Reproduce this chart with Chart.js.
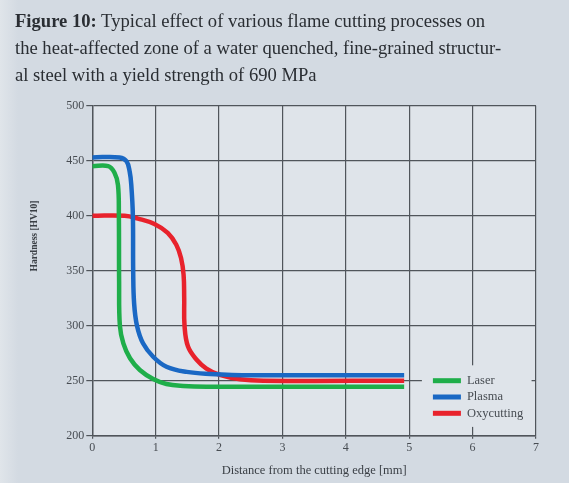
<!DOCTYPE html>
<html>
<head>
<meta charset="utf-8">
<script src="https://cdn.jsdelivr.net/npm/chart.js@4.4.1/dist/chart.umd.min.js"></script>
<style>
  html, body { margin: 0; padding: 0; }
  body {
    width: 569px; height: 483px; position: relative; overflow: hidden;
    background: linear-gradient(to right, #e0e5ea 0px, #d3dae2 18px);
    font-family: "Liberation Serif", "DejaVu Serif", serif;
  }
  #wrap { position: absolute; left: 0; top: 0; width: 569px; height: 483px; }
  #caption {
    position: absolute; left: 15px; top: 7px;
    font-size: 18.6px; line-height: 27px; color: #2a2e33;
  }
</style>
</head>
<body>
<div id="wrap"><canvas id="hardness"></canvas></div>
<div id="caption"><b>Figure 10:</b> Typical effect of various flame cutting processes on<br>the heat-affected zone of a water quenched, fine-grained structur-<br>al steel with a yield strength of 690 MPa</div>
<script>
// hardness profiles, distance in mm vs HV10
const laserX  = [0, 0.25, 0.35, 0.405, 0.419, 0.423, 0.435, 0.49, 0.595, 0.75, 0.96, 1.17, 1.435, 1.8, 4.92];
const laserY  = [445, 445, 439, 428, 401, 340, 300, 284, 270.4, 259.7, 251.5, 247, 245.2, 244.5, 244.5];
const plasmaX = [0, 0.43, 0.54, 0.59, 0.615, 0.64, 0.645, 0.66, 0.705, 0.80, 0.96, 1.17, 1.49, 1.86, 2.5, 4.92];
const plasmaY = [453, 453, 449.5, 440, 428, 400, 350, 320, 300, 284, 271.8, 262.7, 258, 256.2, 255, 255];
const oxyX    = [0, 0.51, 0.72, 0.98, 1.19, 1.325, 1.40, 1.44, 1.45, 1.455, 1.51, 1.65, 1.80, 2.01, 2.33, 2.7, 4.92];
const oxyY    = [400, 400, 397.4, 392.5, 384.4, 373.6, 361.5, 346.4, 325, 300, 281, 268.8, 261, 255.2, 251.3, 250, 250];

const seriesNames = ['Laser', 'Plasma', 'Oxycutting'];
const seriesColors = ['#1fae4a', '#1a68c4', '#e8222c'];

const xTicks = [0, 1, 2, 3, 4, 5, 6, 7];
const yTicks = [200, 250, 300, 350, 400, 450, 500];

const xTitle = 'Distance from the cutting edge [mm]';
const yTitle = 'Hardness [HV10]';

const gridColor = '#50555b';
const plotFill = '#dfe4ea';
const textColor = '#474c52';

function zip(xs, ys) {
  return xs.map((x, i) => ({ x: x, y: ys[i] }));
}

// plot background, legend box and the vertical axis caption
const paperPlugin = {
  id: 'paper',
  beforeDraw(chart) {
    const a = chart.chartArea;
    const ctx = chart.ctx;
    ctx.save();
    ctx.fillStyle = plotFill;
    ctx.fillRect(a.left, a.top, a.right - a.left, a.bottom - a.top);
    ctx.restore();
  },
  afterDraw(chart) {
    const ctx = chart.ctx;
    const sx = chart.scales.x;
    const sy = chart.scales.y;

    // legend panel sits over the grid in the lower right corner
    const left = sx.getPixelForValue(5.2);
    const right = sx.getPixelForValue(6.93);
    const top = sy.getPixelForValue(264);
    const bottom = sy.getPixelForValue(208);
    ctx.save();
    ctx.fillStyle = plotFill;
    ctx.fillRect(left, top, right - left, bottom - top);

    const row0 = sy.getPixelForValue(250);
    ctx.font = '12.5px "Liberation Serif"';
    ctx.textBaseline = 'middle';
    chart.data.datasets.forEach((ds, i) => {
      const y = row0 + i * 16.3;
      ctx.fillStyle = ds.borderColor;
      ctx.fillRect(left + 11, y - 2.5, 28, 5);
      ctx.fillStyle = textColor;
      ctx.fillText(ds.label, left + 45, y);
    });

    ctx.translate(35, 236);
    ctx.rotate(-Math.PI / 2);
    ctx.font = 'bold 9.5px "Liberation Serif"';
    ctx.fillStyle = '#3a3f45';
    ctx.textAlign = 'center';
    ctx.textBaseline = 'middle';
    ctx.fillText(yTitle, 0, 0);
    ctx.restore();
  }
};

const tickFont = { family: '"Liberation Serif"', size: 12 };

new Chart(document.getElementById('hardness'), {
  type: 'line',
  data: {
    datasets: [
      { label: seriesNames[0], data: zip(laserX, laserY), borderColor: seriesColors[0] },
      { label: seriesNames[1], data: zip(plasmaX, plasmaY), borderColor: seriesColors[1] },
      { label: seriesNames[2], data: zip(oxyX, oxyY), borderColor: seriesColors[2] }
    ]
  },
  options: {
    responsive: true,
    maintainAspectRatio: false,
    animation: false,
    events: [],
    layout: { padding: { top: 105.7, right: 33, bottom: 0, left: 0 } },
    elements: {
      point: { radius: 0 },
      line: { borderWidth: 4.5, tension: 0.4, borderCapStyle: 'butt', borderJoinStyle: 'round', fill: false }
    },
    plugins: {
      legend: { display: false },
      tooltip: { enabled: false }
    },
    scales: {
      x: {
        type: 'linear',
        min: 0,
        max: 7,
        afterBuildTicks: s => { s.ticks = xTicks.map(v => ({ value: v })); },
        afterFit: s => { s.height = 47.3; },
        grid: { color: gridColor, lineWidth: 1.2, tickLength: 3 },
        border: { color: gridColor, width: 1.4 },
        ticks: { color: textColor, font: tickFont, padding: 2, maxRotation: 0 },
        title: {
          display: true,
          text: xTitle,
          color: '#3a3f45',
          font: { family: '"Liberation Serif"', size: 12.5 },
          padding: { top: 0, bottom: 5 }
        }
      },
      y: {
        min: 200,
        max: 500,
        afterBuildTicks: s => { s.ticks = yTicks.map(v => ({ value: v })); },
        afterFit: s => { s.width = 92.3; },
        grid: { color: gridColor, lineWidth: 1.2, tickLength: 6 },
        border: { color: gridColor, width: 1.4 },
        ticks: { color: textColor, font: tickFont, padding: 2 }
      }
    }
  },
  plugins: [paperPlugin]
});
</script>
</body>
</html>
